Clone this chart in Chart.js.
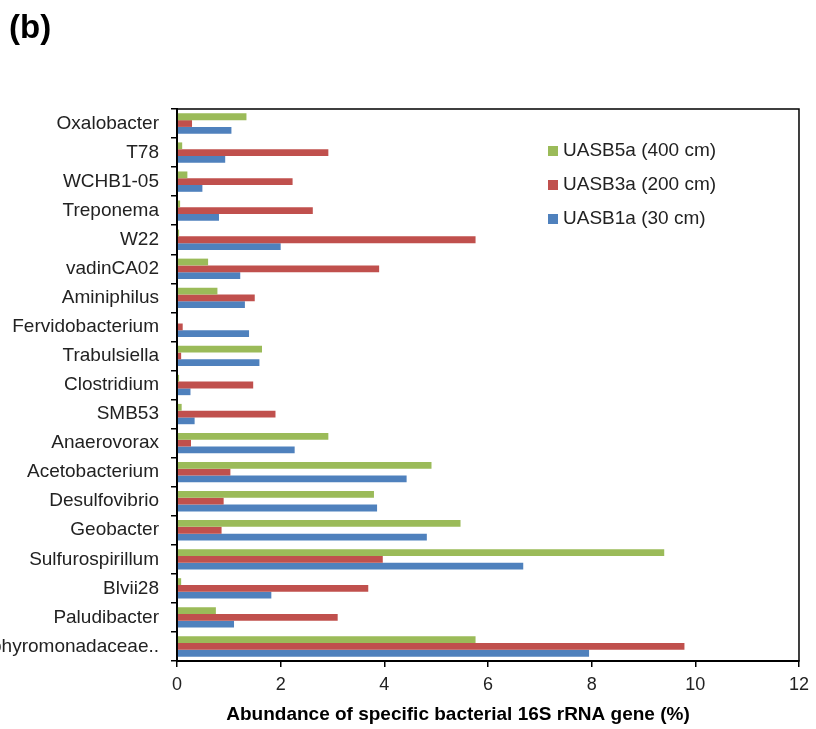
<!DOCTYPE html>
<html>
<head>
<meta charset="utf-8">
<script src="https://cdn.jsdelivr.net/npm/chart.js@4"></script>
<style>
  html, body { margin: 0; padding: 0; background: #fff; }
  #wrap { width: 816px; height: 729px; }
</style>
</head>
<body>
<div id="wrap"><canvas id="abundanceChart" width="816" height="729"></canvas></div>
<script>
// taxa, top to bottom
const taxa = [
  "Oxalobacter", "T78", "WCHB1-05", "Treponema", "W22", "vadinCA02",
  "Aminiphilus", "Fervidobacterium", "Trabulsiella", "Clostridium", "SMB53",
  "Anaerovorax", "Acetobacterium", "Desulfovibrio", "Geobacter",
  "Sulfurospirillum", "Blvii28", "Paludibacter", "Porphyromonadaceae.."
];

// abundance (%) per reactor depth
const uasb5a = [1.34, 0.10, 0.20, 0.06, 0.04, 0.60, 0.78, 0.02, 1.64, 0.04, 0.09,
  2.92, 4.91, 3.80, 5.47, 9.40, 0.08, 0.75, 5.76];
const uasb3a = [0.29, 2.92, 2.23, 2.62, 5.76, 3.90, 1.50, 0.11, 0.08, 1.47, 1.90,
  0.27, 1.03, 0.90, 0.86, 3.97, 3.69, 3.10, 9.79];
const uasb1a = [1.05, 0.93, 0.49, 0.81, 2.00, 1.22, 1.31, 1.39, 1.59, 0.26, 0.34,
  2.27, 4.43, 3.86, 4.82, 6.68, 1.82, 1.10, 7.95];

const seriesNames = ["UASB5a (400 cm)", "UASB3a (200 cm)", "UASB1a (30 cm)"];
const seriesColors = ["#9BBB59", "#C0504D", "#4F81BD"];

const FONT = "'Liberation Sans', Arial, sans-serif";

// frame, panel letter, axis title and legend
const extras = {
  id: "extras",
  afterDraw(chart) {
    const ctx = chart.ctx;
    const a = chart.chartArea;
    ctx.save();
    ctx.strokeStyle = "#000";
    ctx.lineWidth = 1.5;
    ctx.strokeRect(a.left, a.top, a.right - a.left, a.bottom - a.top);

    ctx.fillStyle = "#000";
    ctx.font = "bold 33px " + FONT;
    ctx.textBaseline = "alphabetic";
    ctx.textAlign = "left";
    ctx.fillText("(b)", 9, 38);

    ctx.font = "bold 19px " + FONT;
    ctx.textAlign = "center";
    ctx.textBaseline = "middle";
    ctx.fillText("Abundance of specific bacterial 16S rRNA gene (%)", 458, 715);

    ctx.font = "19px " + FONT;
    ctx.textAlign = "left";
    seriesNames.forEach((name, i) => {
      const y = 151 + i * 34;
      ctx.fillStyle = seriesColors[i];
      ctx.fillRect(548, y - 5, 10, 10);
      ctx.fillStyle = "#222";
      ctx.fillText(name, 563, y);
    });
    ctx.restore();
  }
};

new Chart(document.getElementById("abundanceChart"), {
  type: "bar",
  data: {
    labels: taxa,
    datasets: [uasb5a, uasb3a, uasb1a].map((vals, i) => ({
      label: seriesNames[i],
      data: vals,
      backgroundColor: seriesColors[i],
      borderWidth: 0,
      categoryPercentage: 0.7,
      barPercentage: 1.0,
    })),
  },
  options: {
    indexAxis: "y",
    responsive: false,
    animation: false,
    layout: { padding: { top: 109, right: 13, bottom: 0, left: 0 } },
    plugins: {
      legend: { display: false },
      tooltip: { enabled: false },
    },
    scales: {
      x: {
        min: 0,
        max: 12,
        ticks: { stepSize: 2, color: "#222", padding: 7, font: { family: FONT, size: 18 } },
        grid: { drawOnChartArea: false, tickLength: 6, color: "#000", lineWidth: 1.5 },
        border: { color: "#000", width: 2 },
        afterFit(scale) { scale.height = 68; },
      },
      y: {
        ticks: { color: "#222", padding: 12, autoSkip: false, font: { family: FONT, size: 19 } },
        grid: { offset: true, drawOnChartArea: false, tickLength: 6, color: "#000", lineWidth: 1.5 },
        border: { color: "#000", width: 2 },
        afterFit(scale) { scale.width = 177; },
      },
    },
  },
  plugins: [extras],
});
</script>
</body>
</html>
